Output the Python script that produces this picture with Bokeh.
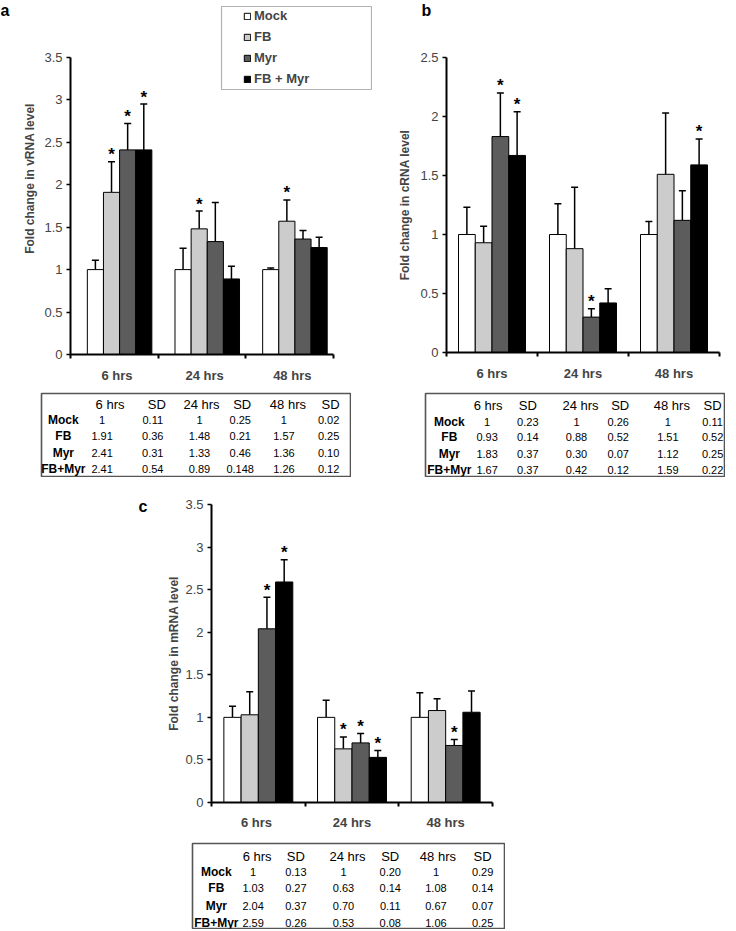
from bokeh.plotting import figure
from bokeh.models import (Range1d, FixedTicker, CustomJSTickFormatter, ColumnDataSource, Whisker,
                          TeeHead, Legend, LegendItem, BoxAnnotation, Spacer, LinearAxis)
from bokeh.layouts import row, column
from bokeh.core.properties import value
from bokeh.embed import file_html
from bokeh.resources import INLINE

# ---------------- data ----------------
categories = ["6 hrs", "24 hrs", "48 hrs"]
categories_c = ["6  hrs", "24 hrs", "48 hrs"]
series = ["Mock", "FB", "Myr", "FB + Myr"]
series_colors = ["#ffffff", "#cccccc", "#5c5c5c", "#000000"]
row_names = ["Mock", "FB", "Myr", "FB+Myr"]
col_names = ["6 hrs", "SD", "24 hrs", "SD", "48 hrs", "SD"]

vrna_mean = [[1, 1, 1], [1.91, 1.48, 1.57], [2.41, 1.33, 1.36], [2.41, 0.89, 1.26]]
vrna_sd = [[0.11, 0.25, 0.02], [0.36, 0.21, 0.25], [0.31, 0.46, 0.10], [0.54, 0.148, 0.12]]
vrna_sig = [[0, 0, 0], [1, 1, 1], [1, 0, 0], [1, 0, 0]]

crna_mean = [[1, 1, 1], [0.93, 0.88, 1.51], [1.83, 0.30, 1.12], [1.67, 0.42, 1.59]]
crna_sd = [[0.23, 0.26, 0.11], [0.14, 0.52, 0.52], [0.37, 0.07, 0.25], [0.37, 0.12, 0.22]]
crna_sig = [[0, 0, 0], [0, 0, 0], [1, 1, 0], [1, 0, 1]]

mrna_mean = [[1, 1, 1], [1.03, 0.63, 1.08], [2.04, 0.70, 0.67], [2.59, 0.53, 1.06]]
mrna_sd = [[0.13, 0.20, 0.29], [0.27, 0.14, 0.14], [0.37, 0.11, 0.07], [0.26, 0.08, 0.25]]
mrna_sig = [[0, 0, 0], [0, 1, 0], [1, 1, 1], [1, 1, 0]]

# ---------------- styling / layout ----------------
FONT_NAME = "Liberation Sans"
FONT = value(FONT_NAME)
BW = 0.184


def fmt(v):
    s = f"{v:.3f}".rstrip("0")
    if s.endswith("."):
        return s[:-1]
    if len(s.split(".")[1]) < 2:
        s += "0"
    return s


def base_fig(W, H, **kw):
    p = figure(width=W, height=H, output_backend="svg", toolbar_location=None, title=None,
               x_axis_type=None, y_axis_type=None, **kw)
    p.background_fill_color = "white"
    p.border_fill_color = "white"
    return p


def chart(W, H, frame, axis_px, ymax, cats, means, sds, sigs, ylabel, shift,
          ystandoff, xstandoff):
    # frame = (left, right, top, bottom) of the plotting frame in canvas px
    # axis_px = (right, top) canvas px where x=3 and y=ymax fall
    fl, fr, ft, fb = frame
    ax_r, ax_t = axis_px
    xpx = (ax_r - fl) / 3.0
    ypx = (fb - ax_t) / ymax
    p = base_fig(W, H,
                 x_range=Range1d(0, 3 + (fr - ax_r) / xpx),
                 y_range=Range1d(0, ymax + (ax_t - ft) / ypx),
                 min_border_left=fl, min_border_right=W - fr,
                 min_border_top=ft, min_border_bottom=H - fb)
    p.outline_line_color = None

    yt = [i * 0.5 for i in range(int(round(ymax / 0.5)) + 1)]
    yax = LinearAxis(ticker=FixedTicker(ticks=yt), bounds=(0, ymax),
                     formatter=CustomJSTickFormatter(code="return tick.toString();"),
                     axis_label=ylabel, axis_label_text_font=FONT_NAME,
                     axis_label_text_font_size="12px", axis_label_text_font_style="bold",
                     axis_label_standoff=ystandoff,
                     major_label_text_font=FONT_NAME, major_label_text_font_size="13px",
                     major_label_standoff=4,
                     major_tick_out=4, major_tick_in=0, minor_tick_out=0, minor_tick_in=0,
                     axis_line_width=2, major_tick_line_width=1.5)
    p.add_layout(yax, "left")

    xax = LinearAxis(ticker=FixedTicker(ticks=[i + 0.5 + shift / 2 for i in range(3)],
                                        minor_ticks=[0, 1, 2, 3]),
                     bounds=(0, 3),
                     formatter=CustomJSTickFormatter(args=dict(labels=cats),
                                                     code="return labels[index];"),
                     major_tick_out=0, major_tick_in=0, minor_tick_out=4, minor_tick_in=0,
                     minor_tick_line_width=2, axis_line_width=2,
                     major_label_text_font=FONT_NAME, major_label_text_font_style="bold",
                     major_label_text_font_size="13px", major_label_standoff=xstandoff)
    p.add_layout(xax, "below")

    renderers = []
    sx, sy = [], []
    for k in range(len(series)):
        xs = [i + 0.5 + shift + (k - 1.5) * BW for i in range(3)]
        ups = [m + s for m, s in zip(means[k], sds[k])]
        src = ColumnDataSource(dict(x=xs, top=means[k], upper=ups))
        w = Whisker(base="x", upper="upper", lower="top", source=src, dimension="height",
                    line_color="black", line_width=1.5,
                    upper_head=TeeHead(size=7, line_color="black", line_width=1.5),
                    lower_head=None)
        p.add_layout(w)
        r = p.vbar(x="x", top="top", bottom=0, width=BW, source=src,
                   fill_color=series_colors[k], line_color="black", line_width=1)
        renderers.append(r)
        for i in range(3):
            if sigs[k][i]:
                sx.append(xs[i])
                sy.append(ups[i])
    p.text(x=sx, y=sy, text=["*"] * len(sx), text_align="center", text_baseline="alphabetic",
           y_offset=-7, text_font=FONT, text_font_size="17px", text_font_style="bold",
           text_color="black")
    return p, renderers


def letter_fig(W, H, ch, x, y):
    p = base_fig(W, H, x_range=Range1d(0, W), y_range=Range1d(H, 0), min_border=0)
    p.outline_line_color = None
    p.text(x=[x], y=[y], text=[ch], text_align="left", text_baseline="middle",
           text_font=FONT, text_font_size="16px", text_font_style="bold", text_color="black")
    return p


def table(W, H, rows_y, label_x, head_x, val_x, means, sds):
    p = base_fig(W, H, x_range=Range1d(0, W), y_range=Range1d(H, 0), min_border=1)
    p.outline_line_color = "#555555"
    p.outline_line_width = 1.6
    p.text(x=head_x, y=[rows_y[0]] * len(col_names), text=col_names, text_align="center",
           text_baseline="middle", text_font=FONT, text_font_size="13px")
    p.text(x=[label_x] * len(row_names), y=rows_y[1:], text=row_names, text_align="center",
           text_baseline="middle", text_font=FONT, text_font_size="12px",
           text_font_style="bold")
    vx, vy, vt = [], [], []
    for r in range(len(row_names)):
        for i in range(3):
            vx += [val_x[2 * i], val_x[2 * i + 1]]
            vy += [rows_y[r + 1]] * 2
            vt += [fmt(means[r][i]), fmt(sds[r][i])]
    p.text(x=vx, y=vy, text=vt, text_align="center", text_baseline="middle",
           text_font=FONT, text_font_size="11px")
    return p


# ---------------- panels ----------------
# panel a: canvas starts at x=10; frame reaches canvas top/right so the legend fits inside it
pa, ra = chart(362, 385, (60, 362, 2, 355), (323, 57), 3.5, categories,
               vrna_mean, vrna_sd, vrna_sig, "Fold change in vRNA level", 0.06, 4, 9)
# panel b: canvas starts at x=372, y=20
pb, _ = chart(363, 365, (74, 347, 37, 332), (347, 37), 2.5, categories,
              crna_mean, crna_sd, crna_sig, "Fold change in cRNA level", 0.0, 5, 9)
# panel c: canvas starts at x=150, y=480
pc, _ = chart(350, 352, (61, 342, 24, 322), (342, 24), 3.5, categories_c,
              mrna_mean, mrna_sd, mrna_sig, "Fold change in mRNA level", 0.0, 1, 8)

legend = Legend(items=[LegendItem(label=s, renderers=[r]) for s, r in zip(series, ra)],
                location=(173, 268), padding=0, margin=0,
                border_line_color=None, background_fill_alpha=0,
                glyph_width=8, glyph_height=8, label_standoff=3, spacing=6,
                label_height=14, label_text_font=FONT_NAME, label_text_font_size="13px",
                label_text_font_style="bold")
pa.add_layout(legend)
pa.add_layout(BoxAnnotation(left=211, right=361, top=6, bottom=89,
                            left_units="canvas", right_units="canvas",
                            top_units="canvas", bottom_units="canvas",
                            fill_alpha=0, line_color="black", line_width=1.2, level="overlay"))

la = letter_fig(10, 30, "a", 0, 9.5)
lb = letter_fig(14, 20, "b", 1, 9.5)
lc = letter_fig(14, 40, "c", 2, 26)

ta = table(311, 85, [11, 27, 44, 61, 77], 22, [69, 116, 161, 202, 248, 291],
           [61, 112, 159, 200, 244, 289], vrna_mean, vrna_sd)
tb = table(301, 85, [12, 29, 45, 62, 78], 24, [63, 103, 156, 196, 248, 289],
           [62, 103, 152, 194, 244, 289], crna_mean, crna_sd)
tc = table(314, 87, [13, 29, 46, 64, 81], 24, [65, 104, 156, 199, 247, 292],
           [61, 104, 152, 199, 245, 292], mrna_mean, mrna_sd)

layout = column(
    row(column(la, Spacer(width=10, height=355)), pa,
        column(row(Spacer(width=48, height=20), lb), pb)),
    Spacer(width=10, height=7),
    row(Spacer(width=40, height=85), ta, Spacer(width=73, height=85), tb),
    Spacer(width=10, height=3),
    row(Spacer(width=136, height=352), column(lc, Spacer(width=14, height=312)), pc),
    Spacer(width=10, height=10),
    row(Spacer(width=191, height=87), tc),
)

open("out.html", "w").write(file_html(layout, INLINE))
